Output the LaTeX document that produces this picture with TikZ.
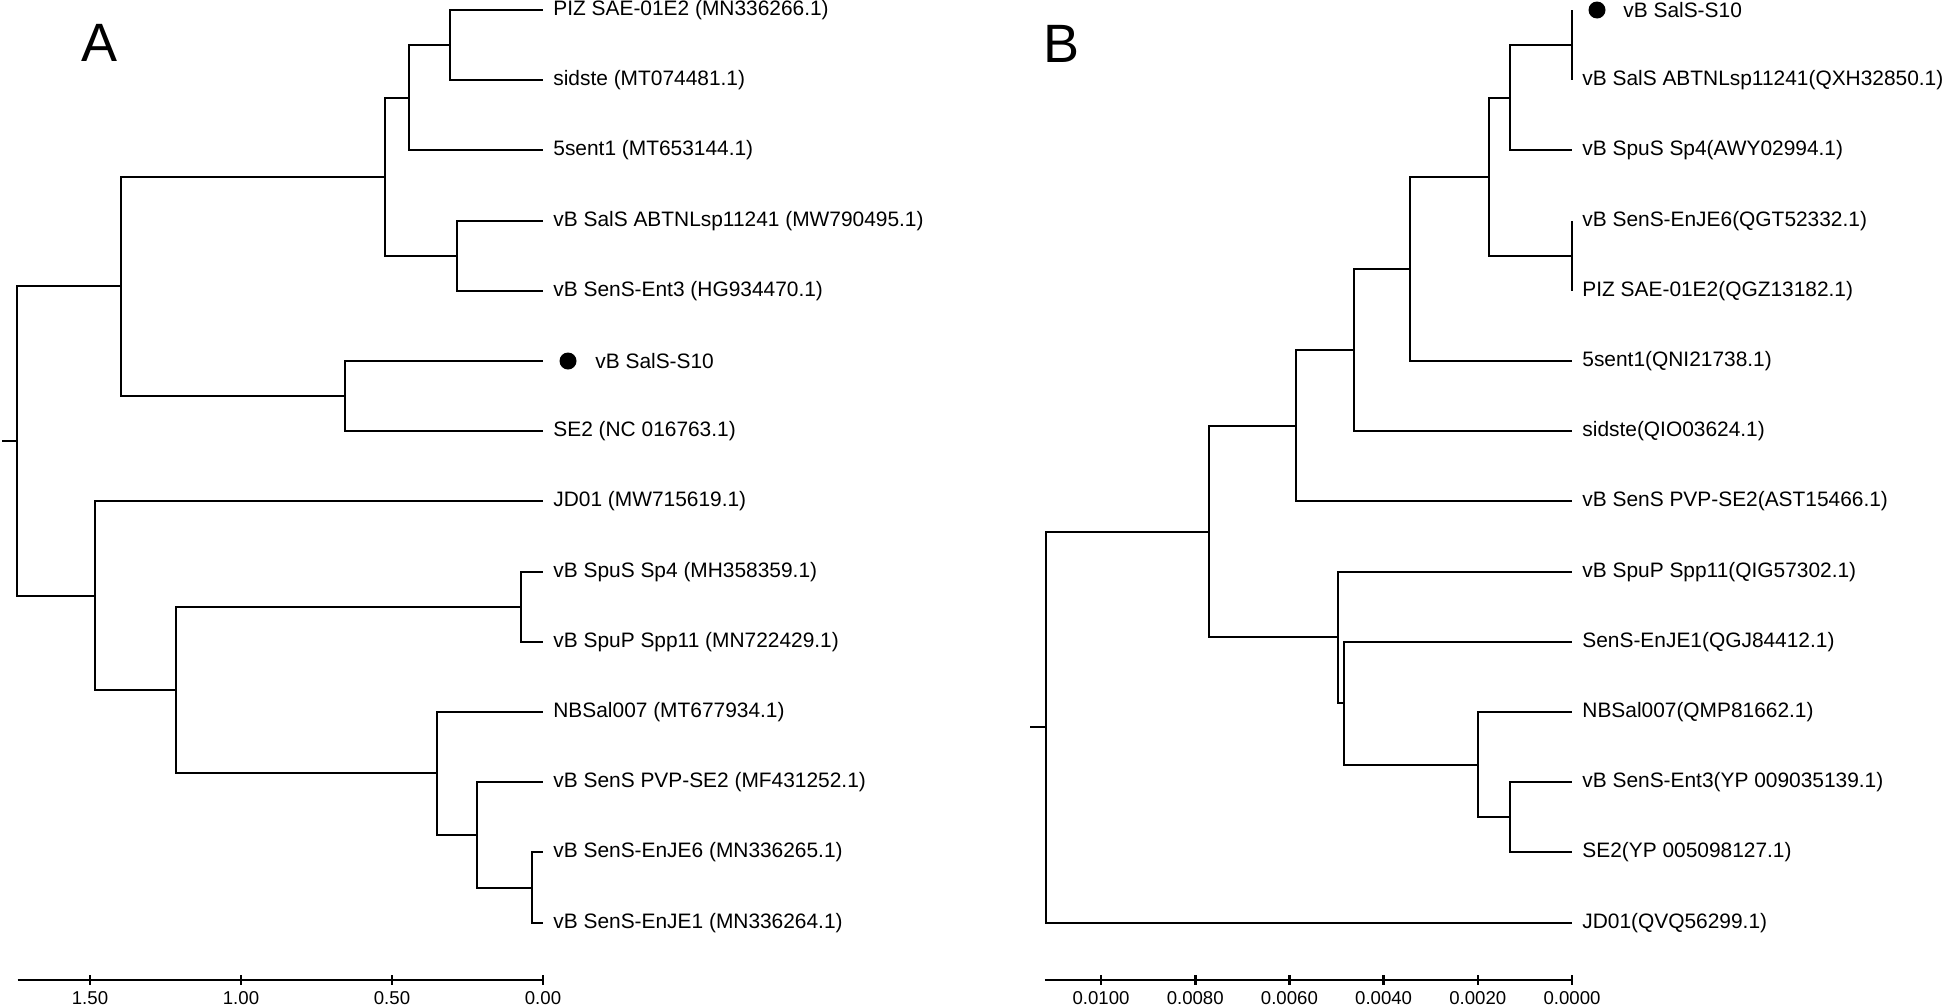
\documentclass[tikz,border=0pt]{standalone}
\usepackage{fontspec}
\setmainfont{Liberation Sans}
\usetikzlibrary{calc}

\tikzset{
  branch/.style={line width=1pt,draw=black},
  axisline/.style={line width=1.3pt,draw=black},
  leaf/.style={anchor=west,inner sep=0pt,font=\fontsize{10.45}{12}\selectfont},
  ticklabel/.style={inner sep=0pt,font=\fontsize{9.3}{11}\selectfont},
  panel/.style={inner sep=0pt,font=\fontsize{27}{30}\selectfont},
  marker/.style={circle,fill=black,inner sep=0pt,minimum size=8.5pt}
}

\begin{document}
\begin{tikzpicture}[x=0.5pt,y=-0.5pt]
\useasboundingbox (0,0) rectangle (1944,1007);
\node[panel] (lA) at (100,43) {A};
\node[panel] (lB) at (1061,44) {B};

\begin{scope}[shift={(543,10)},x=-151pt,y=-35.1pt]
  \foreach \i in {0,...,13} \coordinate (A\i) at (0,\i);
  \foreach \i/\t in {0/PIZ SAE-01E2 (MN336266.1),1/sidste (MT074481.1),2/5sent1 (MT653144.1),
    3/vB SalS ABTNLsp11241 (MW790495.1),4/vB SenS-Ent3 (HG934470.1),6/SE2 (NC 016763.1),
    7/JD01 (MW715619.1),8/vB SpuS Sp4 (MH358359.1),9/vB SpuP Spp11 (MN722429.1),
    10/NBSal007 (MT677934.1),11/vB SenS PVP-SE2 (MF431252.1),12/vB SenS-EnJE6 (MN336265.1),
    13/vB SenS-EnJE1 (MN336264.1)}
    \node[leaf] (tA\i) at ([xshift=5pt]A\i) {\t};
  \node[marker] (dA5) at ([xshift=12.5pt]A5) {};
  \node[leaf] (tA5) at ([xshift=26pt]A5) {vB SalS-S10};
  \coordinate (a1) at (0.309,0.5);
  \coordinate (a2) at (0.445,1.25);
  \coordinate (a3) at (0.286,3.5);
  \coordinate (a4) at (0.523,2.375);
  \coordinate (a5) at (0.655,5.5);
  \coordinate (a6) at (1.397,3.9375);
  \coordinate (b1) at (0.073,8.5);
  \coordinate (b2) at (0.038,12.5);
  \coordinate (b3) at (0.220,11.75);
  \coordinate (b4) at (0.351,10.875);
  \coordinate (b5) at (1.215,9.6875);
  \coordinate (b6) at (1.484,8.34375);
  \coordinate (rA) at (1.742,6.140625);
  \coordinate (sA) at (1.79,6.140625);
  \foreach \p/\c in {a1/A0,a1/A1,a2/a1,a2/A2,a3/A3,a3/A4,a4/a2,a4/a3,a5/A5,a5/A6,a6/a4,a6/a5,
    b1/A8,b1/A9,b2/A12,b2/A13,b3/A11,b3/b2,b4/A10,b4/b3,b5/b1,b5/b4,b6/A7,b6/b5,rA/a6,rA/b6}
    \draw[branch] (\p) |- (\c);
  \draw[branch] (sA) -- (rA);
  \draw[axisline] (1.74,13.818) -- (0,13.818);
  \foreach \v/\t in {1.5/1.50,1/1.00,0.5/0.50,0/0.00} {
    \draw[axisline] ([yshift=2.5pt]\v,13.818) -- ([yshift=-2.5pt]\v,13.818);
    \node[ticklabel] at ([yshift=-9pt]\v,13.818) {\t};
  }
\end{scope}

\begin{scope}[shift={(1572,10)},x=-23.55pt,y=-35.1pt]
  \foreach \i in {0,...,13} \coordinate (B\i) at (0,\i);
  \foreach \i/\t in {1/vB SalS ABTNLsp11241(QXH32850.1),2/vB SpuS Sp4(AWY02994.1),
    3/vB SenS-EnJE6(QGT52332.1),4/PIZ SAE-01E2(QGZ13182.1),5/5sent1(QNI21738.1),
    6/sidste(QIO03624.1),7/vB SenS PVP-SE2(AST15466.1),8/vB SpuP Spp11(QIG57302.1),
    9/SenS-EnJE1(QGJ84412.1),10/NBSal007(QMP81662.1),11/vB SenS-Ent3(YP 009035139.1),
    12/SE2(YP 005098127.1),13/JD01(QVQ56299.1)}
    \node[leaf] (tB\i) at ([xshift=5pt]B\i) {\t};
  \node[marker] (dB0) at ([xshift=12.5pt]B0) {};
  \node[leaf] (tB0) at ([xshift=25.5pt]B0) {vB SalS-S10};
  \coordinate (c1) at (0,0.5);
  \coordinate (c2) at (1.32,1.25);
  \coordinate (c3) at (0,3.5);
  \coordinate (c4) at (1.76,2.375);
  \coordinate (c5) at (3.44,3.6875);
  \coordinate (c6) at (4.63,4.84375);
  \coordinate (c7) at (5.87,5.921875);
  \coordinate (d1) at (1.32,11.5);
  \coordinate (d2) at (1.99,10.75);
  \coordinate (d3) at (4.85,9.875);
  \coordinate (d4) at (4.97,8.9375);
  \coordinate (c8) at (7.70,7.4296875);
  \coordinate (rB) at (11.17,10.21484375);
  \coordinate (sB) at (11.5,10.21484375);
  \foreach \p/\c in {c1/B0,c1/B1,c2/c1,c2/B2,c3/B3,c3/B4,c4/c2,c4/c3,c5/c4,c5/B5,c6/c5,c6/B6,
    c7/c6,c7/B7,d1/B11,d1/B12,d2/B10,d2/d1,d3/B9,d3/d2,d4/B8,d4/d3,c8/c7,c8/d4,rB/c8,rB/B13}
    \draw[branch] (\p) |- (\c);
  \draw[branch] (sB) -- (rB);
  \draw[axisline] (11.19,13.818) -- (0,13.818);
  \foreach \v/\t in {10/0.0100,8/0.0080,6/0.0060,4/0.0040,2/0.0020,0/0.0000} {
    \draw[axisline] ([yshift=2.5pt]\v,13.818) -- ([yshift=-2.5pt]\v,13.818);
    \node[ticklabel] at ([yshift=-9pt]\v,13.818) {\t};
  }
\end{scope}
\end{tikzpicture}
\end{document}
